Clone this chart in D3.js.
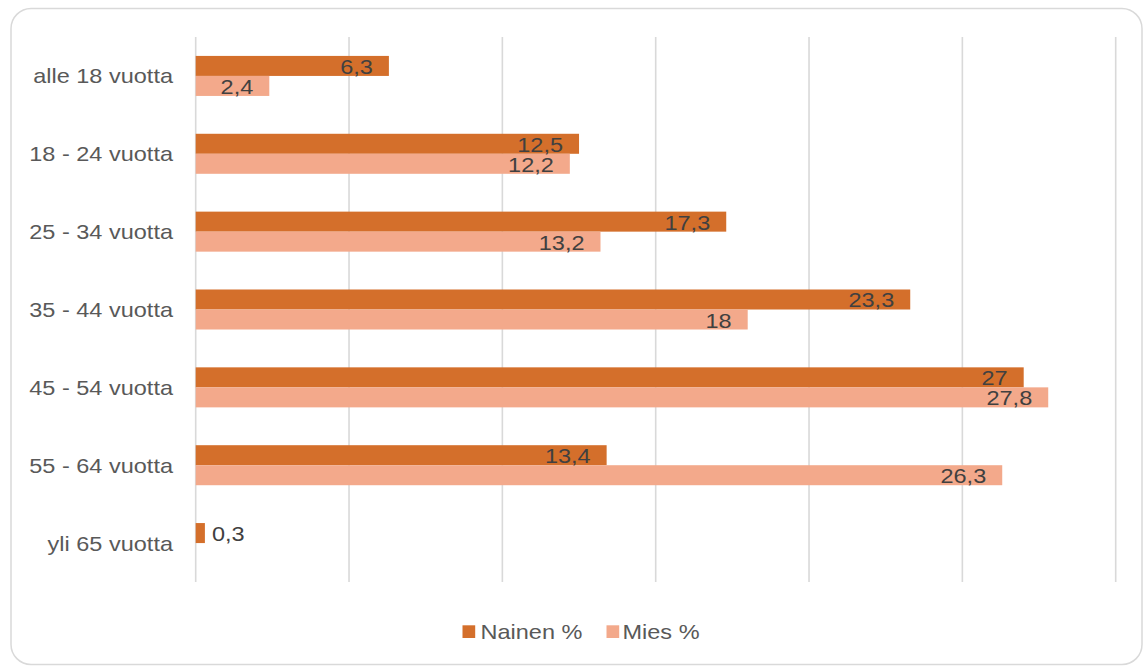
<!DOCTYPE html>
<html>
<head>
<meta charset="utf-8">
<script src="https://cdn.jsdelivr.net/npm/d3@7"></script>
<style>
  html, body { margin: 0; padding: 0; background: #fff; }
  svg { display: block; font-family: "Liberation Sans", Arial, sans-serif; }
</style>
</head>
<body>
<svg id="chart" width="1145" height="666"></svg>
<script>
// Age groups and share (%) by gender
const categories = ["alle 18 vuotta", "18 - 24 vuotta", "25 - 34 vuotta", "35 - 44 vuotta",
                    "45 - 54 vuotta", "55 - 64 vuotta", "yli 65 vuotta"];
const nainen = [6.3, 12.5, 17.3, 23.3, 27, 13.4, 0.3];
const mies   = [2.4, 12.2, 13.2, 18, 27.8, 26.3, null];
const seriesNames = ["Nainen %", "Mies %"];
const xTicks = [0, 5, 10, 15, 20, 25, 30];

const colors = { "Nainen %": "#D46F2B", "Mies %": "#F3A98B" };
const stretch = 1.12;   // horizontal text widening
const fontSize = 21;

const svg = d3.select("#chart");

// Outer frame
svg.append("rect")
  .attr("x", 11).attr("y", 8.5)
  .attr("width", 1131).attr("height", 656)
  .attr("rx", 20).attr("ry", 20)
  .attr("fill", "#fff").attr("stroke", "#D9D9D9").attr("stroke-width", 1.5);

const plot = { left: 195.7, right: 1115.7, top: 37, bottom: 582 };

const x = d3.scaleLinear().domain([0, 30]).range([plot.left, plot.right]);
const y = d3.scaleBand().domain(categories).range([plot.top, plot.bottom])
  .paddingInner(0.486).paddingOuter(0.243);
const ySub = d3.scaleBand().domain(seriesNames).range([0, y.bandwidth()]);

function txt(g, px, py, s, anchor, color) {
  return g.append("text")
    .attr("transform", `translate(${px},${py}) scale(${stretch},1)`)
    .attr("text-anchor", anchor)
    .attr("font-size", fontSize)
    .attr("fill", color)
    .text(s);
}

// Vertical gridlines
svg.append("g").selectAll("line").data(xTicks).join("line")
  .attr("x1", d => x(d)).attr("x2", d => x(d))
  .attr("y1", plot.top).attr("y2", plot.bottom)
  .attr("stroke", "#D9D9D9").attr("stroke-width", 1.6);

// Category labels
const catG = svg.append("g");
categories.forEach(c => {
  txt(catG, 173, y(c) + y.bandwidth() / 2 + 7.5, c, "end", "#595959");
});

// Bars and value labels
const rows = categories.map((c, i) => [
  { cat: c, s: "Nainen %", v: nainen[i] },
  { cat: c, s: "Mies %", v: mies[i] }
]).flat().filter(d => d.v != null);

const barG = svg.append("g");
barG.selectAll("rect").data(rows).join("rect")
  .attr("x", x(0))
  .attr("y", d => y(d.cat) + ySub(d.s))
  .attr("width", d => x(d.v) - x(0))
  .attr("height", ySub.bandwidth())
  .attr("fill", d => colors[d.s]);

const fmt = v => String(v).replace(".", ",");
const labG = svg.append("g");
rows.forEach(d => {
  const cy = y(d.cat) + ySub(d.s) + ySub.bandwidth() / 2 + 8;
  const w = x(d.v) - x(0);
  if (w > 50) {
    txt(labG, x(d.v) - 16, cy, fmt(d.v), "end", "#404040");
  } else {
    txt(labG, x(d.v) + 7, cy, fmt(d.v), "start", "#404040");
  }
});

// Legend
const legend = [
  { s: "Nainen %", mx: 462.5, tx: 480.5 },
  { s: "Mies %", mx: 606.5, tx: 622.5 }
];
const legG = svg.append("g");
legend.forEach(l => {
  legG.append("rect").attr("x", l.mx).attr("y", 625.3)
    .attr("width", 12.7).attr("height", 12.7).attr("fill", colors[l.s]);
  txt(legG, l.tx, 639, l.s, "start", "#595959");
});
</script>
</body>
</html>
